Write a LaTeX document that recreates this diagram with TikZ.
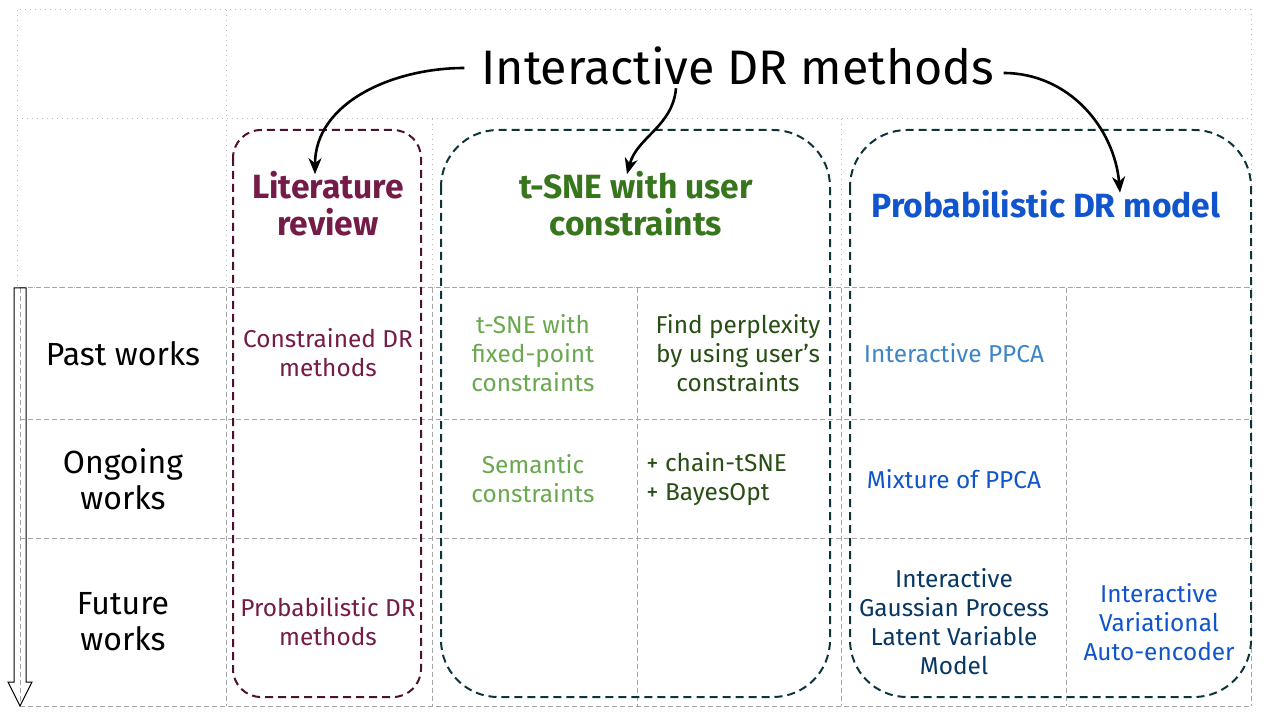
\documentclass[tikz,border=0pt]{standalone}
\usepackage{fontspec}
\setmainfont{Fira Sans}
\usetikzlibrary{arrows.meta,calc}

\definecolor{litcol}{HTML}{741B47}
\definecolor{litbox}{HTML}{4C1130}
\definecolor{groupbox}{HTML}{0C343D}
\definecolor{greenhead}{HTML}{38761D}
\definecolor{greenlight}{HTML}{6AA84F}
\definecolor{greendark}{HTML}{274E13}
\definecolor{bluehead}{HTML}{1155CC}
\definecolor{bluelight}{HTML}{3D85C6}
\definecolor{bluedark}{HTML}{073763}

\tikzset{
	cell/.style={align=center, inner sep=0pt, font=\fontsize{12.2}{14.5}\selectfont},
	rowlabel/.style={align=center, inner sep=0pt, font=\fontsize{16}{18}\selectfont},
	headline/.style={align=center, inner sep=0pt, font=\fontsize{16.8}{18.5}\selectfont\bfseries},
	griddot/.style={color=black!28, dotted, line width=0.5pt},
	griddash/.style={color=black!35, dash pattern=on 2.5pt off 1.5pt, line width=0.5pt},
	groupframe/.style={dash pattern=on 4pt off 2.5pt, line width=1pt, rounded corners=28.5pt},
	pointer/.style={-{Stealth[length=8pt,width=6.5pt,inset=2.5pt]}, line width=1.3pt},
}

\begin{document}
\begin{tikzpicture}[x=0.5pt,y=-0.5pt]
		%%%%% START %%%%%
		\useasboundingbox (0,0) rectangle (1272,716);
		
		% top rows of the table
		\draw[griddot] (17,10) rectangle (1251,288);
		\draw[griddot] (17,119) -- (1251,119);
		\draw[griddot] (226,10) -- (226,288);
		\draw[griddot] (432,119) -- (432,288);
		\draw[griddot] (841,119) -- (841,288);
		
		% rows of works
		\foreach \y in {288,419,538,706}
			\draw[griddash] (20,\y) -- (1251,\y);
		\foreach \x in {20,226,432,637,841,1066,1251}
			\draw[griddash] (\x,288) -- (\x,706);
		
		% time arrow
		\draw[line width=0.5pt] (14,288) -- (26,288) -- (26,682) -- (32,682) -- (20,706) -- (8,682) -- (14,682) -- cycle;
		
		% dashed groups
		\draw[groupframe, color=litbox, rounded corners=14pt] (233,130) rectangle (421,697);
		\draw[groupframe, color=groupbox] (441,130) rectangle (830,697);
		\draw[groupframe, color=groupbox] (850,130) rectangle (1251,697);
		
		\node[font=\fontsize{24.2}{28}\selectfont] (title) at (738,66) {Interactive DR methods};
		
		\node[headline, color=litcol] (litHead) at (328,204) {Literature\\review};
		\node[headline, color=greenhead] (tsneHead) at (636,204) {t-SNE with user\\constraints};
		\node[headline, color=bluehead] (probHead) at (1046,204) {Probabilistic DR model};
		
		\node[rowlabel] (past) at (123,354) {Past works};
		\node[rowlabel] (ongoing) at (123,479) {Ongoing\\works};
		\node[rowlabel] (future) at (123,622) {Future\\works};
		
		\node[cell, color=litcol] (litPast) at (328,353) {Constrained DR\\methods};
		\node[cell, color=litcol] (litFuture) at (328,622) {Probabilistic DR\\methods};
		
		\node[cell, color=greenlight] (tsneFixed) at (533,353) {t-SNE with\\fixed-point\\constraints};
		\node[cell, color=greendark] (tsnePerp) at (738,353) {Find perplexity\\by using user’s\\constraints};
		\node[cell, color=greenlight] (tsneSem) at (533,479) {Semantic\\constraints};
		\node[cell, color=greendark, align=left, anchor=west] (tsneChain) at (646,479) {+ chain-tSNE\\+ BayesOpt};
		
		\node[cell, color=bluelight] (probPPCA) at (954,353) {Interactive PPCA};
		\node[cell, color=bluehead] (probMix) at (954,479) {Mixture of PPCA};
		\node[cell, color=bluedark] (probGP) at (954,622) {Interactive\\Gaussian Process\\Latent Variable\\Model};
		\node[cell, color=bluehead] (probVAE) at (1159,622) {Interactive\\Variational\\Auto-encoder};
		
		% pointers from the title
		\draw[pointer] ($(title.west)+(-10,2)$) to[out=180,in=90] ($(litHead.north)+(-13,3)$);
		\draw[pointer] ($(title.south)+(-62,-4)$) to[out=-95,in=75] ($(tsneHead.north)+(-9,3)$);
		\draw[pointer] ($(title.east)+(2,7)$) to[out=0,in=95] ($(probHead.north)+(74,3)$);
		
		%%%%% END %%%%%
\end{tikzpicture}
\end{document}
